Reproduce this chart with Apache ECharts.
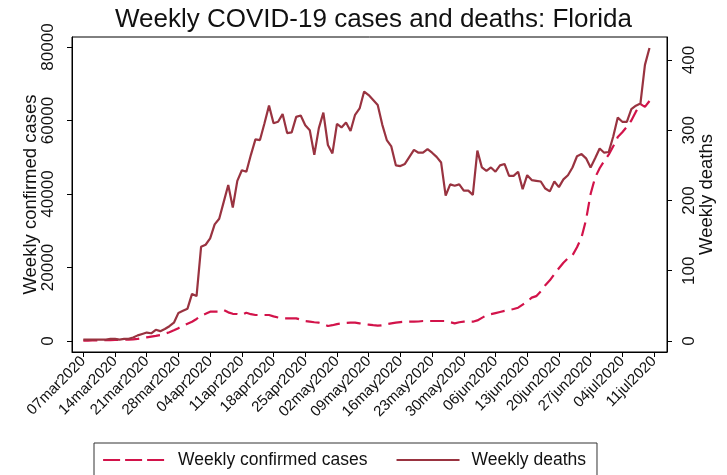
<!DOCTYPE html>
<html>
<head>
<meta charset="utf-8">
<script src="https://cdn.jsdelivr.net/npm/echarts@6/dist/echarts.min.js"></script>
<style>
html,body{margin:0;padding:0;background:#fff;}
#c{width:727px;height:475px;}
</style>
</head>
<body>
<div id="c"></div>
<script>
// Tick labels (one per week, starting 07mar2020 = day 0)
var tickLabels = ["07mar2020","14mar2020","21mar2020","28mar2020","04apr2020","11apr2020","18apr2020","25apr2020","02may2020","09may2020","16may2020","23may2020","30may2020","06jun2020","13jun2020","20jun2020","27jun2020","04jul2020","11jul2020"];
var tickDays = [0,7,14,21,28,35,42,49,56,63,70,77,84,91,98,105,112,119,126];
var casesTicks = [0,20000,40000,60000,80000];
var deathsTicks = [0,100,200,300,400];

// Daily values, day 0 = 07mar2020 ... day 125 = 10jul2020
var weeklyCases = [
 100,120,150,180,200,230,260,300,330,380,
 400,450,600,800,1000,1200,1400,1630,2000,2370,
 2900,3500,4100,4700,5250,6000,6880,7400,7970,7970,
 7970,8430,7800,7400,7340,7100,7700,7300,7070,7070,
 7070,7070,6700,6400,6170,6170,6170,6170,5800,5400,
 5250,5100,4980,4600,4080,4300,4600,4810,4900,4980,
 4980,4800,4600,4450,4300,4160,4300,4600,4810,5000,
 5150,5250,5250,5250,5300,5440,5440,5440,5440,5440,
 5440,5100,4810,5100,5250,5250,5250,5600,6300,7000,
 7300,7600,7900,8200,8430,8700,9060,9900,10700,11800,
 12200,13500,15200,16500,18200,19800,21300,22500,23300,25500,
 28200,33000,40000,44500,47000,49000,50700,53000,55500,56800,
 58300,60000,62400,64500,63700,65300
];
var weeklyDeaths = [
 2,2,2,2,2,2,3,3,2,3,
 3,5,8,10,12,11,16,14,17,21,
 26,40,43,46,67,64,134,137,146,166,
 174,198,222,190,228,243,241,265,287,286,
 310,335,310,312,323,296,297,319,321,307,
 300,265,303,325,279,267,309,304,311,299,
 322,331,355,350,343,336,308,286,277,250,
 249,252,262,272,268,268,273,268,262,254,
 207,223,221,223,214,214,208,271,247,242,
 247,241,250,252,235,235,241,216,236,229,
 228,227,217,213,227,219,230,236,247,263,
 266,260,247,260,274,268,269,291,318,312,
 312,330,335,338,393,417
];

var casesData = weeklyCases.map(function(v,i){return [i,v];});
var deathsData = weeklyDeaths.map(function(v,i){return [i,v];});

var FONT = '"Liberation Sans", Arial, sans-serif';
var chart = echarts.init(document.getElementById('c'), null, {renderer:'canvas'});
chart.setOption({
  animation:false,
  backgroundColor:'#ffffff',
  title:{
    text:'Weekly COVID-19 cases and deaths: Florida',
    left:110, top:2,
    textStyle:{fontFamily:FONT,fontSize:26,fontWeight:'normal',color:'#111'}
  },
  legend:{
    orient:'horizontal',
    left:94, top:443,
    padding:[8,11,20,8],
    itemGap:28,
    itemWidth:63, itemHeight:14,
    borderColor:'#333', borderWidth:1,
    backgroundColor:'#fff',
    itemStyle:{opacity:0},
    textStyle:{fontFamily:FONT,fontSize:17.5,color:'#111',padding:[0,0,0,7]},
    data:[
      {name:'Weekly confirmed cases', lineStyle:{type:[17,5],width:2.2}},
      {name:'Weekly deaths', lineStyle:{width:2.2}}
    ]
  },
  grid:{left:72,right:60,top:37,bottom:123,show:true,borderColor:'#000',borderWidth:1,backgroundColor:'#fff'},
  xAxis:{
    type:'value', min:-2.5, max:128.87,
    splitLine:{show:false},
    axisLine:{show:true,onZero:false,lineStyle:{color:'#000',width:1}},
    axisTick:{show:true,length:5,lineStyle:{color:'#000'},customValues:tickDays},
    axisLabel:{
      customValues:tickDays, rotate:45, margin:7,
      fontFamily:FONT,fontSize:15,color:'#111',
      formatter:function(v){var k=tickDays.indexOf(Math.round(v));return k>=0?tickLabels[k]:'';}
    }
  },
  yAxis:[
    {
      type:'value', min:-2993, max:82721, position:'left',
      name:'Weekly confirmed cases', nameLocation:'middle', nameGap:32, nameRotate:90,
      nameMoveOverlap:false,
      nameTextStyle:{fontFamily:FONT,fontSize:18.5,color:'#111'},
      splitLine:{show:false},
      axisLine:{show:true,onZero:false,lineStyle:{color:'#000'}},
      axisTick:{show:true,length:5,lineStyle:{color:'#000'},customValues:casesTicks},
      axisLabel:{customValues:casesTicks,rotate:90,margin:15,fontFamily:FONT,fontSize:17,color:'#111',
        formatter:function(v){return String(v);}}
    },
    {
      type:'value', min:-15.66, max:432.7, position:'right',
      name:'Weekly deaths', nameLocation:'middle', nameGap:30, nameRotate:90,
      nameMoveOverlap:false,
      nameTextStyle:{fontFamily:FONT,fontSize:18.5,color:'#111'},
      splitLine:{show:false},
      axisLine:{show:true,onZero:false,lineStyle:{color:'#000'}},
      axisTick:{show:true,length:5,lineStyle:{color:'#000'},customValues:deathsTicks},
      axisLabel:{customValues:deathsTicks,rotate:90,margin:14,fontFamily:FONT,fontSize:17,color:'#111',
        formatter:function(v){return String(v);}}
    }
  ],
  series:[
    {
      name:'Weekly confirmed cases', type:'line', yAxisIndex:0, data:casesData,
      showSymbol:false, symbol:'none',
      lineStyle:{color:'#d2134a',width:2.2,type:[14,7]},
      itemStyle:{color:'#d2134a'}
    },
    {
      name:'Weekly deaths', type:'line', yAxisIndex:1, data:deathsData,
      showSymbol:false, symbol:'none',
      lineStyle:{color:'#993340',width:2.2},
      itemStyle:{color:'#993340'}
    }
  ]
});
</script>
</body>
</html>
